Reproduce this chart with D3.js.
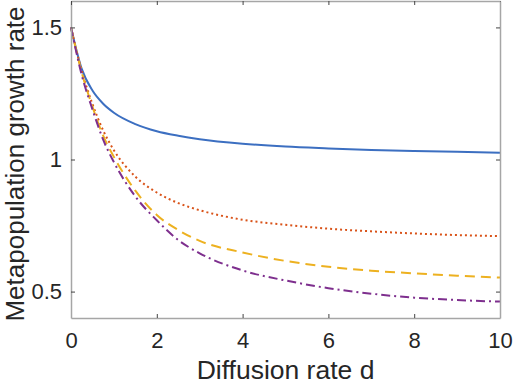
<!DOCTYPE html>
<html>
<head>
<meta charset="utf-8">
<script src="https://cdn.jsdelivr.net/npm/d3@7"></script>
<style>
  body { margin: 0; background: #fff; }
  svg { font-family: "Liberation Sans", Arial, Helvetica, sans-serif; }
</style>
</head>
<body>
<div id="chart"></div>
<script>
// values
var dValues = [0, 0.25, 0.5, 0.75, 1, 1.5, 2, 2.5, 3, 4, 5, 6, 7, 8, 9, 10];
var blueSeries = [1.5, 1.343, 1.261, 1.211, 1.177, 1.134, 1.107, 1.090, 1.077, 1.060, 1.049, 1.042, 1.036, 1.032, 1.029, 1.026];
var orangeSeries = [1.5, 1.335, 1.21, 1.11, 1.035, 0.935, 0.875, 0.835, 0.808, 0.772, 0.753, 0.738, 0.728, 0.720, 0.714, 0.710];
var yellowSeries = [1.5, 1.33, 1.20, 1.09, 1.01, 0.882, 0.79, 0.733, 0.692, 0.648, 0.616, 0.594, 0.579, 0.569, 0.560, 0.553];
var purpleSeries = [1.5, 1.32, 1.19, 1.075, 0.99, 0.86, 0.77, 0.695, 0.645, 0.58, 0.542, 0.513, 0.492, 0.477, 0.468, 0.462];
var xTicks = [0, 2, 4, 6, 8, 10];
var yTicks = [0.5, 1, 1.5];

var width = 513, height = 385;
var margin = {left: 71, right: 13, top: 1, bottom: 67};

var svg = d3.select('#chart')
    .append('svg')
    .attr('width', width)
    .attr('height', height);

var x = d3.scaleLinear().domain([0, 10]).range([margin.left, width - margin.right]);
var y = d3.scaleLinear().domain([0.4, 1.6]).range([height - margin.bottom, margin.top]);

var series = [
    {values: blueSeries, color: '#3c6fc1', dash: null},
    {values: orangeSeries, color: '#D95319', dash: '2,3'},
    {values: yellowSeries, color: '#EDB120', dash: '10,6'},
    {values: purpleSeries, color: '#7E2F8E', dash: '9,4,2,4'}
];

var line = d3.line()
    .x(function(d) { return x(d[0]); })
    .y(function(d) { return y(d[1]); })
    .curve(d3.curveMonotoneX);

// plot lines
svg.append('g').selectAll('path')
    .data(series)
    .enter()
    .append('path')
    .attr('fill', 'none')
    .attr('stroke', function(s) { return s.color; })
    .attr('stroke-width', 2)
    .attr('stroke-dasharray', function(s) { return s.dash; })
    .attr('d', function(s) {
        return line(dValues.map(function(d, i) { return [d, s.values[i]]; }));
    });

// axes (box with inward ticks on all four sides)
var axisColor = '#a6a6a6';
var axBottom = svg.append('g')
    .attr('transform', 'translate(0,' + y.range()[0] + ')')
    .call(d3.axisBottom(x).tickValues(xTicks).tickSizeInner(-4).tickSizeOuter(0).tickPadding(14));
var axLeft = svg.append('g')
    .attr('transform', 'translate(' + x.range()[0] + ',0)')
    .call(d3.axisLeft(y).tickValues(yTicks).tickFormat(d3.format('')).tickSizeInner(-4).tickSizeOuter(0).tickPadding(9));
var axTop = svg.append('g')
    .attr('transform', 'translate(0,' + y.range()[1] + ')')
    .call(d3.axisTop(x).tickValues(xTicks).tickSizeInner(-4).tickSizeOuter(0).tickFormat(''));
var axRight = svg.append('g')
    .attr('transform', 'translate(' + x.range()[1] + ',0)')
    .call(d3.axisRight(y).tickValues(yTicks).tickSizeInner(-4).tickSizeOuter(0).tickFormat(''));

[axBottom, axLeft, axTop, axRight].forEach(function(g) {
    g.select('.domain').attr('stroke', axisColor).attr('stroke-width', 1.5);
    g.selectAll('.tick line').attr('stroke', '#444').attr('stroke-width', 1);
    g.selectAll('.tick text')
        .attr('fill', '#262626')
        .style('font-size', '22px')
        .style('font-family', '"Liberation Sans", Arial, sans-serif');
});

// axis labels
svg.append('text')
    .attr('x', (x.range()[0] + x.range()[1]) / 2)
    .attr('y', 379)
    .attr('text-anchor', 'middle')
    .attr('fill', '#262626')
    .style('font-size', '26.5px')
    .text('Diffusion rate d');

svg.append('text')
    .attr('transform', 'translate(24,164) rotate(-90)')
    .attr('text-anchor', 'middle')
    .attr('fill', '#262626')
    .style('font-size', '26px')
    .text('Metapopulation growth rate');
</script>
</body>
</html>
